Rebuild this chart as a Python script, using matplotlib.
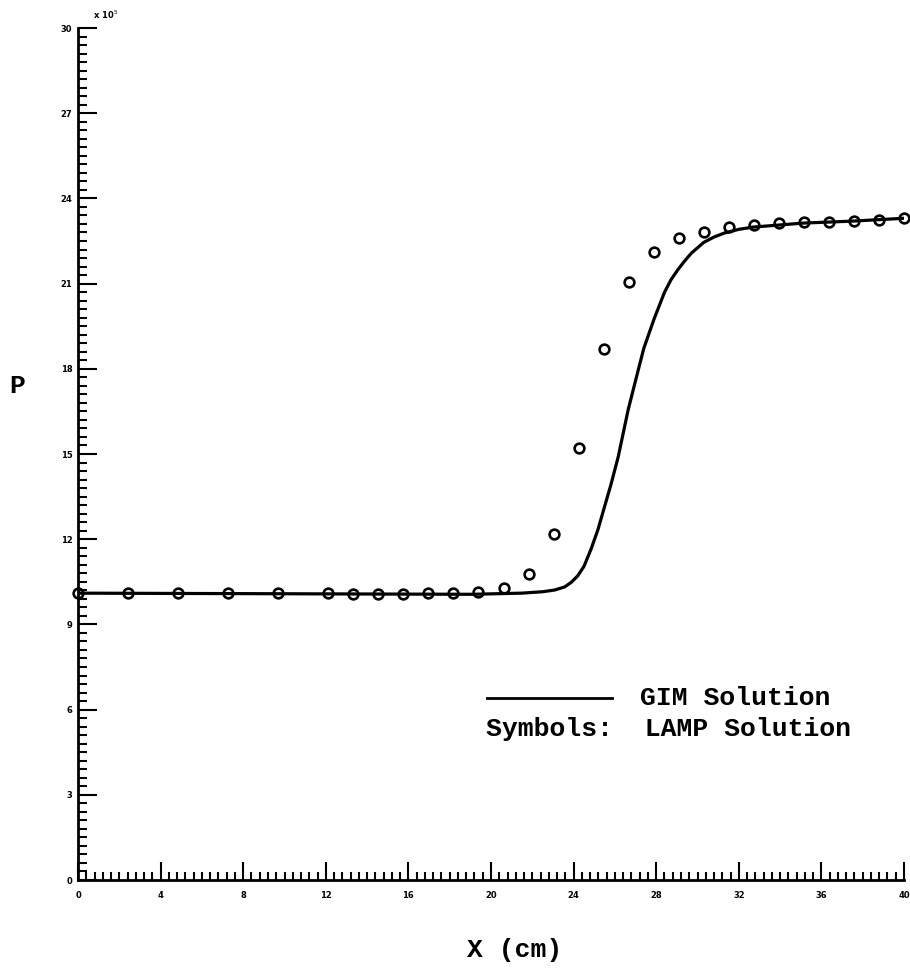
import matplotlib.pyplot as plt
from matplotlib.ticker import MultipleLocator

# GIM solution (solid line)
gim_x = [0.0, 19.06, 21.48, 22.5, 23.08, 23.57, 23.9, 24.2, 24.5, 24.85, 25.18,
         25.5, 25.8, 26.16, 26.64, 27.12, 27.4, 27.9, 28.4, 28.72, 29.05, 29.37,
         29.7, 30.3, 30.8, 31.3, 32.0, 32.7, 35.1, 37.5, 40.0]
gim_p = [10.1, 10.06, 10.1, 10.15, 10.21, 10.32, 10.49, 10.71, 11.04, 11.66, 12.34,
         13.15, 13.9, 14.9, 16.55, 17.93, 18.72, 19.76, 20.69, 21.14, 21.49, 21.79,
         22.07, 22.45, 22.64, 22.78, 22.91, 22.99, 23.13, 23.2, 23.3]

# LAMP solution (symbols)
lamp_x = [0.0, 2.42, 4.85, 7.27, 9.70, 12.12, 13.33, 14.55, 15.76, 16.97, 18.18,
          19.39, 20.61, 21.82, 23.03, 24.24, 25.45, 26.67, 27.88, 29.09, 30.30,
          31.52, 32.73, 33.94, 35.15, 36.36, 37.58, 38.79, 40.0]
lamp_p = [10.1, 10.1, 10.1, 10.1, 10.1, 10.1, 10.08, 10.08, 10.08, 10.1, 10.1,
          10.15, 10.27, 10.77, 12.17, 15.2, 18.69, 21.07, 22.1, 22.6, 22.8,
          22.99, 23.06, 23.13, 23.16, 23.16, 23.2, 23.23, 23.3]

x_ticks = [0, 4, 8, 12, 16, 20, 24, 28, 32, 36, 40]
y_ticks = [0, 3, 6, 9, 12, 15, 18, 21, 24, 27, 30]

mono = 'Liberation Mono'

fig = plt.figure(figsize=(9.1, 9.74), dpi=100)
ax = fig.add_axes([78 / 910, 1 - 880 / 974, (904 - 78) / 910, (880 - 28) / 974])

ax.plot(gim_x, gim_p, color='black', linewidth=2.3, solid_capstyle='round',
        solid_joinstyle='round')
ax.plot(lamp_x, lamp_p, linestyle='none', marker='o', markersize=7.0,
        markeredgewidth=1.9, markerfacecolor='none', markeredgecolor='black',
        clip_on=False)

ax.set_xlim(0, 40)
ax.set_ylim(0, 30)
ax.set_xticks(x_ticks)
ax.set_yticks(y_ticks)
ax.xaxis.set_minor_locator(MultipleLocator(0.4))
ax.yaxis.set_minor_locator(MultipleLocator(0.3))

for s in ['top', 'right']:
    ax.spines[s].set_visible(False)
for s in ['left', 'bottom']:
    ax.spines[s].set_linewidth(2.0)

ax.tick_params(axis='y', which='major', direction='in', length=14, width=1.5, pad=4,
               labelsize=6)
ax.tick_params(axis='y', which='minor', direction='in', length=6.5, width=1.5)
ax.tick_params(axis='x', which='major', direction='in', length=13, width=1.5, pad=8,
               labelsize=6)
ax.tick_params(axis='x', which='minor', direction='in', length=5.5, width=1.5)
for lab in ax.get_xticklabels() + ax.get_yticklabels():
    lab.set_fontweight('bold')

fig.text(93 / 910, 1 - 15 / 974, 'x 10$^5$', fontsize=6, fontweight='bold',
         ha='left', va='center')

# axis labels
fig.text(17 / 910, 1 - 386 / 974, 'P', family=mono, fontsize=19, fontweight='bold',
         ha='center', va='center')
fig.text(515 / 910, 1 - 950 / 974, 'X (cm)', family=mono, fontsize=19,
         fontweight='bold', ha='center', va='center')

# legend
fig.add_artist(plt.Line2D([487 / 910, 612 / 910], [1 - 698 / 974, 1 - 698 / 974],
                          color='black', linewidth=2.0))
fig.text(640 / 910, 1 - 698 / 974, 'GIM Solution', family=mono, fontsize=19,
         fontweight='bold', ha='left', va='center')
fig.text(486 / 910, 1 - 729 / 974, 'Symbols:  LAMP Solution', family=mono,
         fontsize=19, fontweight='bold', ha='left', va='center')

fig.savefig('out.png', dpi=100)
